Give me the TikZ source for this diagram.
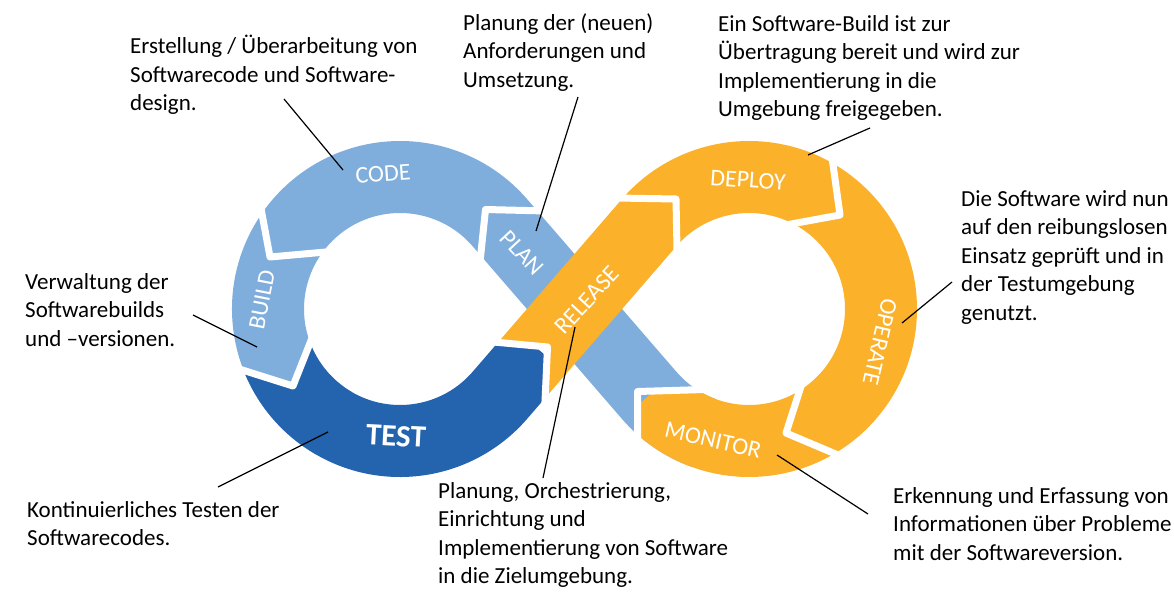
\documentclass[tikz,border=0pt]{standalone}
\usepackage{fontspec}
\setmainfont{Carlito}
\usetikzlibrary{calc}
\definecolor{lblue}{HTML}{7FAEDC}
\definecolor{dblue}{HTML}{2463AE}
\definecolor{orng}{HTML}{FCB12B}
\begin{document}
\begin{tikzpicture}[x=1pt,y=-1pt,
  gap/.style={white,line width=7pt,line join=round},
  lbl/.style={white,font=\fontsize{24}{28}\selectfont,inner sep=0pt},
  note/.style={anchor=north west,align=left,inner sep=0pt,font=\fontsize{23}{28.5}\selectfont},
  leader/.style={black,line width=1.2pt}]
\useasboundingbox (0,0) rectangle (1174,596);
\coordinate (L) at (400,309);
\coordinate (R) at (749,309);
% light blue: BUILD, CODE, PLAN band
\fill[lblue] ($(R)+(110:168)$) arc[start angle=110,end angle=139.15,radius=168]
  -- ($(L)+(319.15:96)$) arc[start angle=319.15,end angle=120,radius=96]
  -- ($(L)+(120:168)$) arc[start angle=120,end angle=319.15,radius=168]
  -- ($(R)+(139.15:96)$) arc[start angle=139.15,end angle=110,radius=96] -- cycle;
% TEST
\begin{scope}
\clip ($(L)+(175:168)$) arc[start angle=175,end angle=40.85,radius=168]
  -- ++(-49.15:60) -- ($(L)+(40.85:96)+(-49.15:60)$) -- ($(L)+(40.85:96)$)
  arc[start angle=40.85,end angle=175,radius=96] -- cycle;
\fill[dblue] (236,368) -- (293,386) -- (312,338) -- (400,309) -- (488,341.5)
  -- (547.5,347) -- (544.5,412) -- (545,520) -- (236,520) -- cycle;
\end{scope}
% orange: RELEASE, DEPLOY, OPERATE, MONITOR
\begin{scope}
\clip ($(L)+(40.85:96)$) -- ($(R)+(220.85:168)$)
  arc[start angle=220.85,end angle=499.15,radius=168]
  -- ($(R)+(499.15:96)$) arc[start angle=499.15,end angle=220.85,radius=96]
  -- ($(L)+(40.85:168)$) -- cycle;
\fill[orng] (544.5,412) -- (547.5,347) -- (488,341.5) -- (450,300) -- (450,100)
  -- (1000,100) -- (1000,520) -- (637.5,520) -- (637.5,442) -- (637.5,391.5)
  -- (705,389.5) -- (650,355) -- (600,440) -- cycle;
\end{scope}
% white gaps
\draw[gap] (546,211) -- (485.5,209.5) -- (480,262);
\draw[gap] (259,198) -- (270,257) -- (326,252);
\draw[gap] (236,368) -- (293,386) -- (312,338);
\draw[gap] (488,341.5) -- (547.5,347) -- (544.5,412);
\draw[gap] (616,198) -- (676,199) -- (677,250);
\draw[gap] (831,150) -- (840,215) -- (788,224.6);
\draw[gap] (803,380) -- (786,433) -- (838,455);
\draw[gap] (637.5,442) -- (637.5,391.5) -- (705,389.5);
% segment labels
\node[lbl,rotate=4] (lcode) at (383,174) {CODE};
\node[lbl,rotate=79] (lbuild) at (262,300) {BUILD};
\node[lbl,rotate=-3,font=\fontsize{31}{34}\selectfont\bfseries] (ltest) at (396,436) {TEST};
\node[lbl,rotate=-47] (lplan) at (522,253) {PLAN};
\node[lbl,rotate=47] (lrelease) at (587,300) {RELEASE};
\node[lbl,rotate=-4] (ldeploy) at (748,180) {DEPLOY};
\node[lbl,rotate=-103] (loperate) at (880,342) {OPERATE};
\node[lbl,rotate=-13] (lmonitor) at (713,440) {MONITOR};
% annotations
\node[note] (tcode) at (130,35) {Erstellung / Überarbeitung von\\Softwarecode und Software-\\design.};
\node[note] (tplan) at (463,13) {Planung der (neuen)\\Anforderungen und\\Umsetzung.};
\node[note] (tdeploy) at (718,15) {Ein Software-Build ist zur\\Übertragung bereit und wird zur\\Implementierung in die\\Umgebung freigegeben.};
\node[note] (toperate) at (961,190) {Die Software wird nun\\auf den reibungslosen\\Einsatz geprüft und in\\der Testumgebung\\genutzt.};
\node[note] (tbuild) at (25,273) {Verwaltung der\\Softwarebuilds\\und –versionen.};
\node[note] (ttest) at (27,501) {Kontinuierliches Testen der\\Softwarecodes.};
\node[note] (trelease) at (438,482) {Planung, Orchestrierung,\\Einrichtung und\\Implementierung von Software\\in die Zielumgebung.};
\node[note] (tmonitor) at (893,487) {Erkennung und Erfassung von\\Informationen über Probleme\\mit der Softwareversion.};
% leaders
\coordinate (a1) at (284,99);  \coordinate (b1) at (343,170);
\coordinate (a2) at (578,97);  \coordinate (b2) at (536,231);
\coordinate (a3) at (870,128); \coordinate (b3) at (808,155);
\coordinate (a4) at (952,282); \coordinate (b4) at (902,323);
\coordinate (a5) at (193,315); \coordinate (b5) at (257,347);
\coordinate (a6) at (218,487); \coordinate (b6) at (328,432);
\coordinate (a7) at (543,478); \coordinate (b7) at (575,327);
\coordinate (a8) at (868,514); \coordinate (b8) at (777,455);
\draw[leader] (a1) -- (b1);
\draw[leader] (a2) -- (b2);
\draw[leader] (a3) -- (b3);
\draw[leader] (a4) -- (b4);
\draw[leader] (a5) -- (b5);
\draw[leader] (a6) -- (b6);
\draw[leader] (a7) -- (b7);
\draw[leader] (a8) -- (b8);
\end{tikzpicture}
\end{document}
